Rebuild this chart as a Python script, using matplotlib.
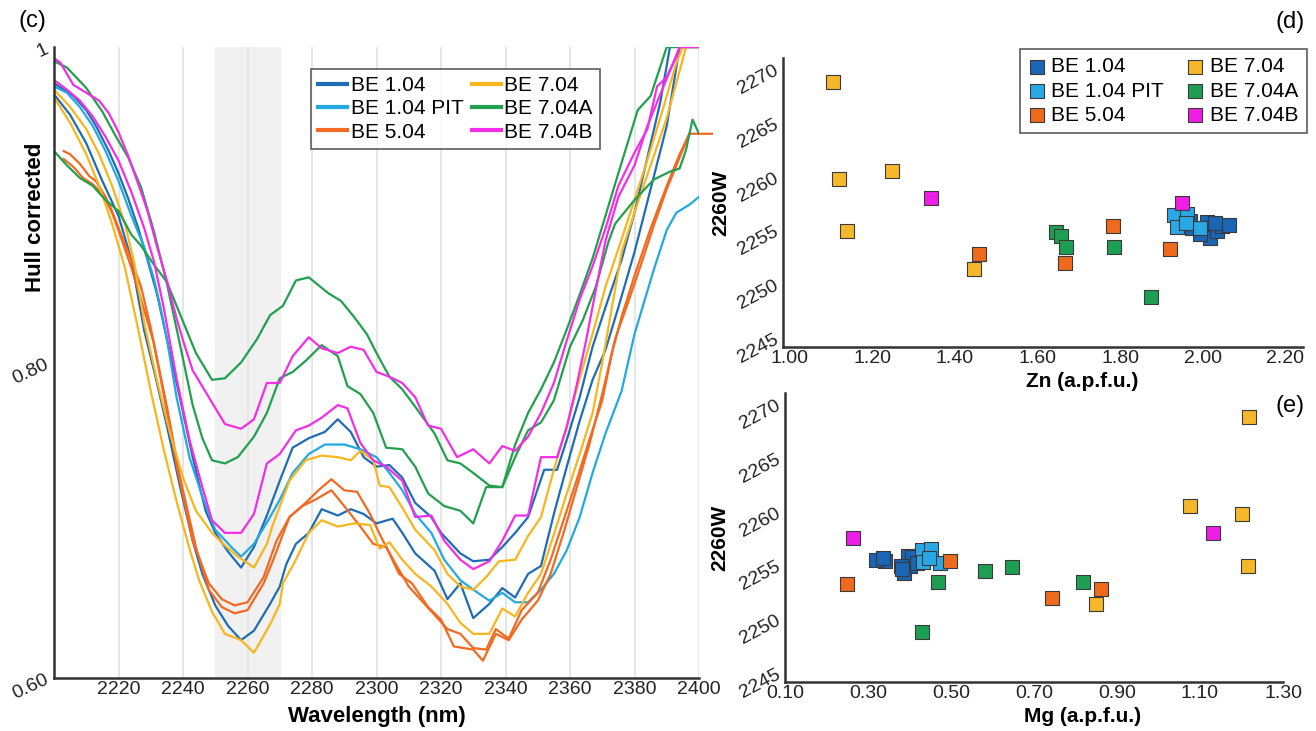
import matplotlib
matplotlib.use('Agg')
import matplotlib.pyplot as plt

plt.rcParams['font.family'] = ['Liberation Sans', 'DejaVu Sans']

# ---------------- (c) hull corrected spectra ----------------
# BE 1.04 (two spectra)
db1_wl = [2200, 2203, 2206, 2210, 2213, 2217, 2220, 2223, 2226, 2229, 2232, 2235, 2239, 2243, 2247, 2250, 2254,
          2258, 2262, 2266, 2270, 2274, 2279, 2284, 2288, 2292, 2296, 2300, 2304, 2308, 2312, 2317, 2320, 2326,
          2330, 2335, 2339, 2343, 2347, 2352, 2356, 2359, 2363, 2367, 2371, 2376, 2380, 2384, 2388, 2391, 2400]
db1_val = [.977, .973, .969, .960, .950, .934, .920, .904, .886, .865, .843, .815, .778, .740, .706, .692, .680,
           .670, .683, .703, .725, .746, .752, .756, .764, .756, .740, .734, .735, .727, .711, .702, .692, .679,
           .674, .675, .683, .692, .702, .732, .732, .751, .778, .810, .835, .865, .895, .930, .965, 1.0, 1.0]
db2_wl = [2200, 2205, 2210, 2215, 2220, 2224, 2228, 2231, 2235, 2239, 2243, 2246, 2250, 2254, 2258, 2262, 2267,
          2270, 2272, 2275, 2279, 2283, 2288, 2292, 2296, 2300, 2305, 2308, 2312, 2318, 2322, 2326, 2330, 2335,
          2339, 2343, 2347, 2351, 2355, 2359, 2363, 2367, 2371, 2375, 2380, 2385, 2390, 2394, 2400]
db2_val = [.970, .957, .939, .915, .893, .865, .820, .795, .760, .722, .687, .666, .646, .633, .624, .630, .647,
           .658, .672, .685, .692, .707, .703, .707, .704, .698, .701, .692, .679, .668, .650, .660, .638, .647,
           .657, .651, .666, .671, .704, .734, .763, .789, .808, .835, .870, .910, .950, 1.0, 1.0]
# BE 1.04 PIT
lb_wl = [2200, 2204, 2208, 2212, 2216, 2220, 2224, 2228, 2231, 2233, 2235, 2238, 2242, 2246, 2250, 2255, 2258,
         2262, 2267, 2270, 2274, 2279, 2284, 2290, 2295, 2300, 2304, 2308, 2312, 2317, 2321, 2326, 2330, 2335,
         2339, 2343, 2347, 2351, 2355, 2359, 2363, 2367, 2371, 2376, 2380, 2386, 2390, 2393, 2397, 2400]
lb_val = [.975, .971, .962, .950, .934, .915, .893, .873, .853, .835, .815, .778, .740, .715, .694, .683, .677,
          .685, .702, .713, .730, .742, .748, .748, .745, .740, .730, .719, .704, .692, .675, .662, .656, .649,
          .654, .648, .648, .656, .666, .681, .702, .730, .755, .782, .818, .859, .884, .895, .900, .905]
# BE 5.04 (two spectra)
or1_wl = [2203, 2205, 2208, 2211, 2213, 2216, 2218, 2221, 2224, 2227, 2230, 2234, 2238, 2243, 2248, 2252, 2256,
          2260, 2265, 2269, 2273, 2278, 2282, 2286, 2290, 2294, 2298, 2302, 2306, 2310, 2314, 2318, 2322, 2326,
          2330, 2334, 2337, 2341, 2345, 2350, 2354, 2358, 2362, 2366, 2370, 2373, 2376, 2380, 2385, 2390, 2394,
          2397, 2404]
or1_val = [.934, .932, .926, .918, .915, .905, .896, .880, .865, .848, .822, .780, .735, .687, .660, .650, .646,
           .648, .664, .687, .702, .711, .719, .726, .719, .718, .704, .687, .672, .658, .649, .640, .631, .628,
           .619, .618, .631, .625, .643, .654, .675, .700, .725, .751, .776, .806, .829, .855, .885, .912, .932,
           .945, .945]
or2_wl = [2203, 2206, 2209, 2212, 2215, 2218, 2221, 2224, 2227, 2231, 2235, 2239, 2244, 2248, 2252, 2256, 2260,
          2265, 2268, 2273, 2277, 2281, 2286, 2290, 2295, 2299, 2303, 2307, 2311, 2316, 2320, 2324, 2330, 2333,
          2337, 2341, 2345, 2350, 2354, 2358, 2362, 2366, 2370, 2374, 2378, 2382, 2386, 2390, 2394, 2397]
or2_val = [.929, .924, .917, .913, .907, .895, .878, .860, .840, .812, .772, .728, .683, .656, .645, .641, .643,
           .660, .675, .702, .709, .713, .719, .709, .696, .685, .683, .666, .660, .645, .637, .620, .618, .611,
           .628, .624, .637, .649, .666, .692, .720, .748, .780, .815, .838, .862, .887, .910, .930, .945]
# BE 7.04 (two spectra)
ye1_wl = [2200, 2205, 2210, 2214, 2218, 2222, 2225, 2228, 2232, 2236, 2240, 2244, 2249, 2253, 2257, 2262, 2266,
          2268, 2273, 2278, 2283, 2288, 2292, 2295, 2299, 2301, 2304, 2308, 2312, 2318, 2322, 2326, 2330, 2334,
          2338, 2343, 2347, 2351, 2355, 2359, 2363, 2367, 2371, 2375, 2380, 2385, 2389, 2393, 2395, 2400]
ye1_val = [.973, .962, .948, .932, .912, .888, .862, .825, .788, .755, .727, .706, .692, .684, .677, .670, .685,
           .698, .725, .738, .741, .740, .738, .744, .738, .722, .721, .708, .694, .681, .666, .658, .656, .664,
           .674, .675, .690, .702, .732, .760, .790, .818, .848, .872, .903, .935, .962, .990, 1.0, 1.0]
ye2_wl = [2200, 2205, 2210, 2214, 2218, 2222, 2226, 2230, 2234, 2238, 2242, 2245, 2249, 2253, 2258, 2262, 2267,
          2270, 2271, 2275, 2279, 2283, 2288, 2293, 2298, 2301, 2304, 2308, 2312, 2317, 2322, 2326, 2330, 2335,
          2339, 2343, 2347, 2351, 2355, 2359, 2363, 2367, 2370, 2373, 2376, 2380, 2385, 2390, 2394, 2396, 2400]
ye2_val = [.968, .952, .932, .912, .888, .860, .822, .782, .745, .712, .682, .662, .642, .628, .624, .616, .634,
           .647, .660, .675, .692, .700, .696, .698, .697, .682, .686, .675, .666, .658, .647, .635, .628, .628,
           .644, .639, .654, .666, .691, .717, .742, .768, .800, .835, .870, .895, .925, .955, .985, 1.0, 1.0]
# BE 7.04A (two spectra)
gr1_wl = [2200, 2204, 2208, 2212, 2216, 2220, 2224, 2227, 2231, 2235, 2239, 2244, 2249, 2253, 2258, 2263, 2267,
          2271, 2275, 2279, 2285, 2289, 2293, 2297, 2300, 2304, 2308, 2312, 2318, 2322, 2326, 2330, 2335, 2339,
          2343, 2347, 2351, 2355, 2359, 2363, 2367, 2371, 2375, 2378, 2381, 2385, 2390, 2400]
gr1_val = [.934, .925, .917, .912, .903, .896, .881, .874, .862, .851, .831, .806, .789, .790, .800, .815, .830,
           .836, .852, .854, .844, .839, .829, .818, .806, .791, .783, .772, .755, .738, .736, .730, .722, .721,
           .748, .768, .783, .800, .821, .843, .866, .893, .920, .940, .960, .969, 1.0, 1.0]
gr2_wl = [2200, 2204, 2210, 2215, 2219, 2223, 2227, 2231, 2235, 2239, 2243, 2246, 2249, 2253, 2257, 2262, 2266,
          2270, 2274, 2278, 2283, 2288, 2291, 2295, 2299, 2303, 2308, 2312, 2316, 2321, 2326, 2330, 2334, 2339,
          2343, 2347, 2351, 2355, 2360, 2364, 2368, 2372, 2374, 2380, 2386, 2391, 2394, 2396, 2398, 2400]
gr2_val = [.991, .987, .974, .959, .944, .930, .911, .883, .850, .812, .773, .752, .738, .736, .740, .753, .768,
           .790, .794, .801, .811, .804, .785, .780, .768, .746, .745, .734, .717, .709, .706, .698, .721, .721,
           .740, .757, .762, .776, .810, .827, .848, .877, .888, .903, .916, .921, .923, .935, .954, .945]
# BE 7.04B (two spectra)
ma1_wl = [2200, 2202, 2206, 2210, 2214, 2217, 2220, 2223, 2227, 2229, 2232, 2235, 2238, 2240, 2243, 2248, 2253,
          2258, 2262, 2266, 2270, 2274, 2279, 2283, 2288, 2292, 2296, 2300, 2304, 2308, 2312, 2316, 2320, 2325,
          2330, 2335, 2339, 2343, 2347, 2351, 2355, 2359, 2363, 2367, 2371, 2375, 2380, 2384, 2387, 2390, 2393,
          2394, 2400]
ma1_val = [.993, .990, .976, .971, .966, .958, .946, .931, .908, .896, .873, .852, .828, .814, .795, .778, .761,
           .758, .764, .787, .787, .804, .816, .809, .806, .810, .808, .794, .791, .787, .778, .760, .758, .740,
           .745, .736, .747, .744, .753, .768, .787, .814, .840, .861, .885, .912, .933, .948, .975, .981, .994,
           1.0, 1.0]
ma2_wl = [2200, 2204, 2208, 2212, 2216, 2220, 2224, 2228, 2231, 2234, 2238, 2242, 2246, 2249, 2253, 2258, 2262,
          2266, 2270, 2275, 2279, 2283, 2288, 2291, 2295, 2299, 2303, 2308, 2312, 2317, 2321, 2326, 2330, 2335,
          2339, 2343, 2347, 2351, 2356, 2359, 2362, 2365, 2368, 2371, 2375, 2380, 2384, 2388, 2392, 2394, 2400]
ma2_val = [.979, .973, .966, .956, .943, .928, .908, .885, .864, .835, .790, .751, .721, .700, .692, .692, .704,
           .736, .742, .757, .760, .765, .773, .771, .749, .738, .734, .725, .702, .703, .687, .675, .669, .674,
           .687, .703, .703, .740, .740, .759, .785, .814, .846, .877, .905, .925, .950, .970, .990, 1.0, 1.0]

samples = ['BE 1.04', 'BE 1.04 PIT', 'BE 5.04', 'BE 7.04', 'BE 7.04A', 'BE 7.04B']
line_colors = ['#1f6db5', '#23a9e1', '#f26a21', '#f8b51d', '#22a04e', '#f22ee6']
spectra = [
    (0, db1_wl, db1_val), (0, db2_wl, db2_val),
    (1, lb_wl, lb_val),
    (2, or1_wl, or1_val), (2, or2_wl, or2_val),
    (3, ye1_wl, ye1_val), (3, ye2_wl, ye2_val),
    (4, gr1_wl, gr1_val), (4, gr2_wl, gr2_val),
    (5, ma1_wl, ma1_val), (5, ma2_wl, ma2_val),
]
wl_ticks = [2220, 2240, 2260, 2280, 2300, 2320, 2340, 2360, 2380, 2400]

# ---------------- (d), (e) scatter: Zn, Mg (a.p.f.u.) vs 2260W ----------------
zn_be104 = [1.970, 2.010, 2.006, 2.018, 2.035, 2.047, 2.065, 1.975, 1.994, 2.030]
mg_be104 = [0.396, 0.407, 0.400, 0.386, 0.379, 0.340, 0.320, 0.419, 0.382, 0.335]
w_be104 = [2255.8, 2255.7, 2254.9, 2254.2, 2254.9, 2255.4, 2255.5, 2255.2, 2254.6, 2255.6]
zn_be104pit = [1.930, 1.962, 1.937, 1.993, 1.960]
mg_be104pit = [0.429, 0.452, 0.433, 0.474, 0.447]
w_be104pit = [2256.4, 2256.5, 2255.3, 2255.2, 2255.6]
zn_be504 = [1.458, 1.667, 1.784, 1.920]
mg_be504 = [0.862, 0.743, 0.498, 0.250]
w_be504 = [2252.8, 2251.9, 2255.4, 2253.2]
zn_be704 = [1.104, 1.249, 1.120, 1.138, 1.446]
mg_be704 = [1.217, 1.076, 1.200, 1.216, 0.850]
w_be704 = [2268.8, 2260.5, 2259.7, 2254.9, 2251.4]
zn_be704a = [1.644, 1.656, 1.668, 1.786, 1.875]
mg_be704a = [0.646, 0.583, 0.818, 0.468, 0.431]
w_be704a = [2254.8, 2254.4, 2253.4, 2253.4, 2248.8]
zn_be704b = [1.342, 1.950]
mg_be704b = [1.132, 0.265]
w_be704b = [2258.0, 2257.5]

marker_colors = ['#1a65b4', '#2aa8e6', '#ef6a1c', '#f6b82a', '#1e9e52', '#ee1ee6']
zn_groups = [zn_be104, zn_be104pit, zn_be504, zn_be704, zn_be704a, zn_be704b]
mg_groups = [mg_be104, mg_be104pit, mg_be504, mg_be704, mg_be704a, mg_be704b]
w_groups = [w_be104, w_be104pit, w_be504, w_be704, w_be704a, w_be704b]

W, H = 1316, 731
fig = plt.figure(figsize=(W / 100, H / 100), dpi=100)


def box(x0, y0, x1, y1):
    # pixel box (top-left origin) -> figure fraction rect
    return [x0 / W, 1 - y1 / H, (x1 - x0) / W, (y1 - y0) / H]


def style_axes(ax):
    for s in ['top', 'right']:
        ax.spines[s].set_visible(False)
    for s in ['left', 'bottom']:
        ax.spines[s].set_linewidth(1.8)
        ax.spines[s].set_color('#333333')
    ax.tick_params(length=0, labelsize=14, labelcolor='#222222')


# ---- (c) ----
ax = fig.add_axes(box(54, 47, 699, 678))
style_axes(ax)
ax.axvspan(2250, 2270, color='#f1f1f1', zorder=0)
for t in wl_ticks:
    ax.axvline(t, color='#e6e6e6', lw=1.4, zorder=0.5)
seen = set()
for idx, wl, val in spectra:
    lab = samples[idx] if idx not in seen else None
    seen.add(idx)
    ax.plot(wl, val, color=line_colors[idx], lw=1.6, label=lab, zorder=2,
            clip_on=(wl[-1] <= 2400))
ax.set_xlim(2200, 2400)
ax.set_ylim(0.6, 1.0)
ax.set_xticks(wl_ticks)
ax.set_yticks([0.6, 0.8, 1.0])
ax.set_yticklabels(['0.60', '0.80', '1'])
ax.tick_params(axis='y', labelrotation=25, pad=2)
ax.tick_params(axis='x', pad=2)
ax.set_xlabel('Wavelength (nm)', fontsize=16, fontweight='bold')
ax.xaxis.set_label_coords(0.5, -0.045)
ax.set_ylabel('Hull corrected', fontsize=16, fontweight='bold')
ax.yaxis.set_label_coords(-0.012, 0.73)
leg = ax.legend(ncol=2, loc='upper left', bbox_to_anchor=(311 / W, 1 - 69 / H),
                bbox_transform=fig.transFigure, fontsize=15, frameon=True, fancybox=False,
                handlelength=1.4, handletextpad=0.15, columnspacing=0.4, labelspacing=0.2,
                borderpad=0.35, borderaxespad=0)
leg.get_frame().set_edgecolor('#333333')
leg.get_frame().set_linewidth(1.2)
for h in leg.legend_handles:
    h.set_linewidth(3)
fig.text(18 / W, 1 - 21 / H, '(c)', fontsize=17, va='center', ha='left')


def scatter_panel(rect, xs_groups, xlim, xticks, xlabel, lab_x, ylab_x):
    a = fig.add_axes(rect)
    style_axes(a)
    for i in range(len(samples)):
        a.scatter(xs_groups[i], w_groups[i], marker='s', s=90, c=marker_colors[i],
                  edgecolors='#3a3a3a', linewidths=0.8, zorder=3, label=samples[i])
    a.set_xlim(*xlim)
    a.set_ylim(2244.1, 2271)
    a.set_xticks(xticks)
    a.set_xticklabels(['%.2f' % t for t in xticks])
    a.set_yticks([2245, 2250, 2255, 2260, 2265, 2270])
    a.tick_params(axis='y', labelrotation=28, pad=1)
    a.tick_params(axis='x', pad=2)
    a.set_xlabel(xlabel, fontsize=15, fontweight='bold')
    a.xaxis.set_label_coords(lab_x, -0.087)
    a.set_ylabel('2260W', fontsize=15, fontweight='bold')
    a.yaxis.set_label_coords(ylab_x, 0.5)
    return a


axd = scatter_panel(box(783, 58, 1303, 347), zn_groups, (0.984, 2.243),
                    [1.0, 1.2, 1.4, 1.6, 1.8, 2.0, 2.2], 'Zn (a.p.f.u.)', 0.575, -0.102)
leg2 = axd.legend(ncol=2, loc='upper left', bbox_to_anchor=(1020 / W, 1 - 49 / H),
                  bbox_transform=fig.transFigure, fontsize=15, frameon=True, fancybox=False,
                  handlelength=0.8, handletextpad=0.3, columnspacing=1.1, labelspacing=0.25,
                  borderpad=0.4, borderaxespad=0, scatterpoints=1, markerscale=1.0)
leg2.get_frame().set_edgecolor('#333333')
leg2.get_frame().set_linewidth(1.2)
fig.text(1305 / W, 1 - 22 / H, '(d)', fontsize=17, va='center', ha='right')

axe = scatter_panel(box(785, 393, 1283, 682), mg_groups, (0.110, 1.300),
                    [0.1, 0.3, 0.5, 0.7, 0.9, 1.1, 1.3], 'Mg (a.p.f.u.)', 0.597, -0.112)
fig.text(1305 / W, 1 - 406 / H, '(e)', fontsize=17, va='center', ha='right')

fig.savefig('out.png', dpi=100)
